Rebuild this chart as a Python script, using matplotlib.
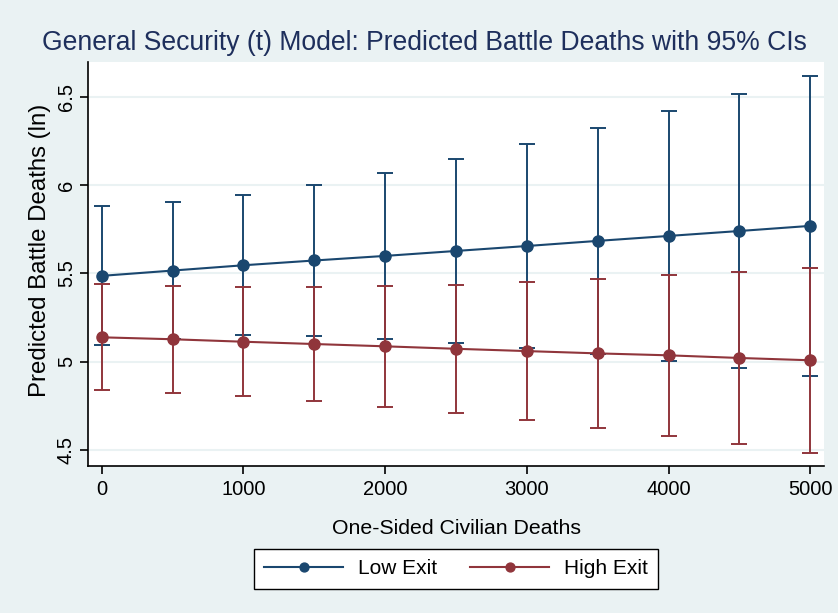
import matplotlib.pyplot as plt

# values
civ_deaths = [0, 500, 1000, 1500, 2000, 2500, 3000, 3500, 4000, 4500, 5000]

low_mean = [5.485, 5.515, 5.545, 5.572, 5.598, 5.626, 5.654, 5.683, 5.711, 5.739, 5.768]
low_upper = [5.879, 5.902, 5.942, 5.998, 6.066, 6.145, 6.232, 6.322, 6.418, 6.516, 6.616]
low_lower = [5.091, 5.128, 5.148, 5.146, 5.130, 5.107, 5.076, 5.044, 5.004, 4.962, 4.920]

high_mean = [5.137, 5.126, 5.112, 5.099, 5.086, 5.072, 5.059, 5.046, 5.035, 5.020, 5.007]
high_upper = [5.439, 5.428, 5.421, 5.420, 5.427, 5.435, 5.449, 5.466, 5.490, 5.509, 5.532]
high_lower = [4.837, 4.823, 4.803, 4.778, 4.744, 4.709, 4.671, 4.625, 4.578, 4.531, 4.482]

y_ticks = [4.5, 5, 5.5, 6, 6.5]
y_labels = ["4.5", "5", "5.5", "6", "6.5"]
x_ticks = [0, 1000, 2000, 3000, 4000, 5000]

navy = "#1A476F"
maroon = "#90353B"
title_col = "#1E2F5C"
bg = "#EAF2F3"

plt.rcParams["font.family"] = ["Liberation Sans", "DejaVu Sans"]

fig = plt.figure(figsize=(8.38, 6.13), dpi=100, facecolor=bg)
ax = fig.add_axes([88.3 / 838, 1 - 465.7 / 613, (824 - 88.3) / 838, (465.7 - 62) / 613])
ax.set_facecolor("white")


def draw_series(mean, lower, upper, color, label):
    yerr = [[m - lo for m, lo in zip(mean, lower)], [up - m for m, up in zip(mean, upper)]]
    ax.errorbar(civ_deaths, mean, yerr=yerr, fmt="none", ecolor=color,
                elinewidth=1.4, capsize=5.8, capthick=1.4, zorder=3)
    ax.plot(civ_deaths, mean, color=color, lw=1.5, marker="o", ms=8,
            label=label, zorder=4)


draw_series(low_mean, low_lower, low_upper, navy, "Low Exit")
draw_series(high_mean, high_lower, high_upper, maroon, "High Exit")

ax.set_xlim(-95, 5097)
ax.set_ylim(4.41, 6.696)
ax.set_yticks(y_ticks)
ax.set_yticklabels(y_labels, rotation=90, va="center")
ax.set_xticks(x_ticks)
ax.grid(axis="y", color=bg, lw=1.5, zorder=0)
ax.set_axisbelow(True)

for side in ["top", "right"]:
    ax.spines[side].set_visible(False)
for side in ["left", "bottom"]:
    ax.spines[side].set_linewidth(1.2)
    ax.spines[side].set_color("black")
ax.tick_params(axis="both", direction="out", length=6, width=1.2, labelsize=14.5, pad=4)
ax.tick_params(axis="y", pad=3)

ax.set_ylabel("Predicted Battle Deaths (ln)", fontsize=17.3, va="center")
ax.yaxis.set_label_coords(-(88.3 - 40) / (824 - 88.3), (465.7 - 250) / (465.7 - 62))
ax.set_xlabel("One-Sided Civilian Deaths", fontsize=15.3)
ax.xaxis.set_label_coords(0.5, -(519 - 465.7) / (465.7 - 62))

fig.text(424 / 838, 1 - 43 / 613, "General Security (t) Model: Predicted Battle Deaths with 95% CIs",
         ha="center", va="center", fontsize=19.1, color=title_col)

leg = fig.legend(loc="center", bbox_to_anchor=(456 / 838, 1 - 569 / 613), ncol=2,
                 fontsize=15, frameon=True, fancybox=False, edgecolor="black",
                 handlelength=3.8, handletextpad=0.7, columnspacing=1.6,
                 borderpad=0.5, markerscale=0.8, framealpha=1)
leg.get_frame().set_linewidth(1.0)

fig.savefig("out.png", dpi=100, facecolor=bg)
